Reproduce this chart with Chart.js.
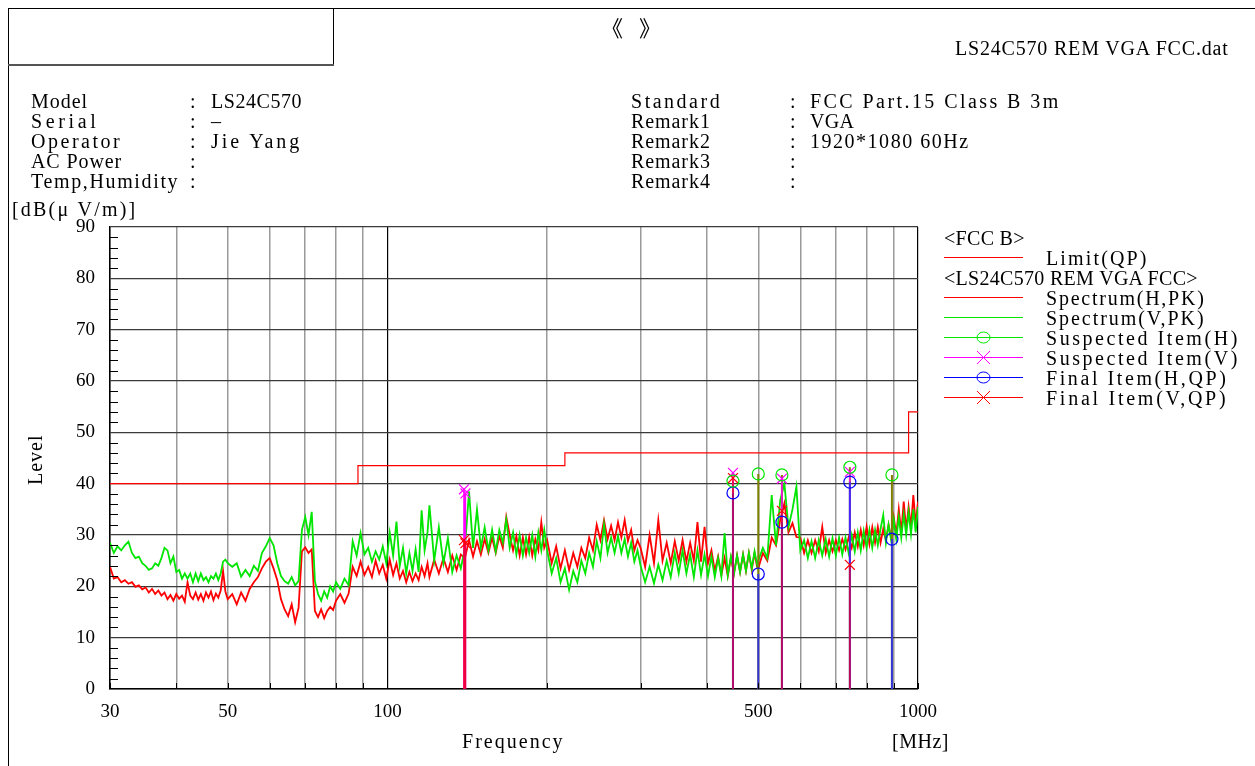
<!DOCTYPE html>
<html lang="en">
<head>
<meta charset="UTF-8">
<title>LS24C570 REM VGA FCC</title>
<script src="https://cdn.jsdelivr.net/npm/chart.js@4.4.0/dist/chart.umd.min.js"></script>
<style>
    body { margin: 0; padding: 0; background: #fff; color: #000; font-family: "Liberation Serif", serif; }
    #page { position: relative; width: 1255px; height: 766px; overflow: hidden; }
    #plot { position: absolute; left: 0; top: 0; }
    .t { position: absolute; font-size: 20px; line-height: 20px; white-space: pre; }
    .rule { position: absolute; background: #000; }
</style>
</head>
<body>
<div id="page">
    <canvas id="plot" width="1255" height="766"></canvas>

    <div class="rule" style="left:8px;top:8px;width:1247px;height:1px"></div>
    <div class="rule" style="left:8px;top:8px;width:1px;height:758px"></div>
    <div class="rule" style="left:333px;top:8px;width:1px;height:57px"></div>
    <div class="rule" style="left:8px;top:64px;width:326px;height:2px;background:#555"></div>

    <div class="t" style="left:601px;top:16px;font-family:'Noto Sans CJK SC';font-size:22px;letter-spacing:16px">《》</div>
    <div class="t mono" style="left:955px;top:38px">LS24C570 REM VGA FCC.dat</div>

    <div class="t mono" style="left:31px;top:91px">Model</div>
    <div class="t mono" style="left:31px;top:111px">Serial</div>
    <div class="t mono" style="left:31px;top:131px">Operator</div>
    <div class="t mono" style="left:31px;top:151px">AC Power</div>
    <div class="t mono" style="left:31px;top:171px">Temp,Humidity</div>
    <div class="t" style="left:190px;top:91px">:</div>
    <div class="t" style="left:190px;top:111px">:</div>
    <div class="t" style="left:190px;top:131px">:</div>
    <div class="t" style="left:190px;top:151px">:</div>
    <div class="t" style="left:190px;top:171px">:</div>
    <div class="t mono" style="left:211px;top:91px">LS24C570</div>
    <div class="t" style="left:211px;top:111px">–</div>
    <div class="t mono" style="left:211px;top:131px">Jie Yang</div>

    <div class="t mono" style="left:631px;top:91px">Standard</div>
    <div class="t mono" style="left:631px;top:111px">Remark1</div>
    <div class="t mono" style="left:631px;top:131px">Remark2</div>
    <div class="t mono" style="left:631px;top:151px">Remark3</div>
    <div class="t mono" style="left:631px;top:171px">Remark4</div>
    <div class="t" style="left:790px;top:91px">:</div>
    <div class="t" style="left:790px;top:111px">:</div>
    <div class="t" style="left:790px;top:131px">:</div>
    <div class="t" style="left:790px;top:151px">:</div>
    <div class="t" style="left:790px;top:171px">:</div>
    <div class="t mono" style="left:810px;top:91px">FCC Part.15 Class B 3m</div>
    <div class="t mono" style="left:810px;top:111px">VGA</div>
    <div class="t mono" style="left:810px;top:131px">1920*1080 60Hz</div>

    <div class="t mono" style="left:12px;top:199px">[dB(μ V/m)]</div>
    <div class="t" style="left:10px;top:450px;width:50px;text-align:center;letter-spacing:1px;transform:rotate(-90deg)">Level</div>
    <div class="t mono" style="left:462px;top:731px">Frequency</div>
    <div class="t mono" style="left:892px;top:731px">[MHz]</div>

    <div class="t mono" style="left:944px;top:228px">&lt;FCC B&gt;</div>
    <div class="t mono" style="left:1046px;top:248px">Limit(QP)</div>
    <div class="t mono" style="left:944px;top:268px">&lt;LS24C570 REM VGA FCC&gt;</div>
    <div class="t mono" style="left:1046px;top:288px">Spectrum(H,PK)</div>
    <div class="t mono" style="left:1046px;top:308px">Spectrum(V,PK)</div>
    <div class="t mono" style="left:1046px;top:328px">Suspected Item(H)</div>
    <div class="t mono" style="left:1046px;top:348px">Suspected Item(V)</div>
    <div class="t mono" style="left:1046px;top:368px">Final Item(H,QP)</div>
    <div class="t mono" style="left:1046px;top:388px">Final Item(V,QP)</div>
</div>

<script>
    // frequency points of both spectrum traces [MHz]
    const freqs = [
        30, 30.5, 31, 31.5, 32, 32.5, 33, 33.5, 34, 34.5, 35, 35.5, 36, 36.5, 37, 37.5, 38, 38.5, 39, 39.5,
        40, 40.5, 41, 41.5, 42, 42.5, 43, 43.5, 44, 44.5, 45, 45.5, 46, 46.5, 47, 47.5, 48, 48.5, 49, 49.5,
        50, 51, 52, 53, 54, 55, 56, 57, 58, 59, 60, 61, 62, 63, 64, 65, 66, 67, 68, 69,
        70, 71, 72, 73, 74, 75, 76, 77, 78, 79,
        80, 81.5, 83, 84.5, 86, 87.5, 89, 90.5, 92, 93.5, 95, 96.5, 98, 99.5, 101, 102.5, 104, 105.5, 107, 108.5,
        110, 111.5, 113, 114.5, 116, 117.5, 119,
        120, 122.5, 125, 127.5, 130, 132.5, 135, 137.5, 140, 142.5, 145, 147.5, 150, 152.5, 155, 157.5,
        160, 162.5, 165, 167.5, 170, 172.5, 175, 177.5, 180, 182.5, 185, 187.5, 190, 192.5, 195, 197.5,
        200, 204, 208, 212, 216, 220, 224, 228, 232, 236, 240, 244, 248, 252, 256, 260, 264, 268, 272, 276,
        280, 284, 288, 292, 296,
        300, 306, 312, 318, 324, 330, 336, 342, 348, 354, 360, 366, 372, 378, 384, 390, 396, 402, 408, 414,
        420, 426, 432, 438, 444, 450, 456, 462, 468, 474, 480, 486, 492, 498,
        500, 510, 520, 530, 540, 550, 560, 570, 580, 590, 600, 610, 620, 630, 640, 650, 660, 670, 680, 690,
        700, 710, 720, 730, 740, 750, 760, 770, 780, 790, 800, 810, 820, 830, 840, 850, 860, 870, 880, 890,
        900, 910, 920, 930, 940, 950, 960, 970, 980, 990, 1000
    ];

    // Spectrum(H,PK) [dBuV/m]
    const levelH = [
        23.8, 21.5, 21.8, 20.8, 21.2, 20.5, 20.8, 19.9, 20.2, 19.4, 19.8, 18.8, 19.5, 18.5, 19.2, 18.2, 18.8, 17.5, 18.3, 17.2,
        18.5, 17.6, 18.2, 17, 20.8, 18.2, 17.5, 18.8, 17.4, 18.5, 17.2, 18.8, 17.8, 19, 17.3, 18.6, 17.8, 19.2, 23, 19,
        17.5, 18.5, 16.5, 18.8, 17.2, 19.5, 20.8, 21.8, 23.5, 24.8, 25.5, 23.5, 21.2, 17.5, 15.5, 14.2, 16.5, 13, 15.8, 26.8,
        27.6, 26.5, 27.2, 15.2, 14, 15.5, 13.8, 15.2, 16, 15.4,
        17.2, 18.5, 16.8, 18.6, 23.8, 22, 24.8, 22.2, 23.8, 21.8, 25, 22.5, 24.2, 21.5, 25.2, 22.2, 24.5, 21.5, 23, 20.8,
        22.8, 21, 22.5, 21.2, 23.8, 22, 24.5,
        21.8, 25.2, 22.5, 25.5, 22.8, 26, 23.2, 26.2, 25.5, 29, 25.8, 28.8, 26.2, 29.2, 26.5, 29.5,
        26.5, 29.8, 27.5, 33.5, 30, 27, 29.8, 26, 29.5, 26.2, 29.6, 26, 29.2, 27, 32.5, 27.5,
        29, 24.5, 27.8, 23.5, 27, 23.2, 26.5, 23.8, 27.5, 25.5, 29.5, 27, 32, 29, 32.9, 29.2, 31.8, 29, 32.5, 29.5,
        32.9, 28.8, 31, 27, 29,
        27.5, 23.8, 30, 24.5, 32.9, 25, 28.5, 24.5, 28.8, 25, 29, 24.8, 28.5, 25, 32.5, 24.8, 31.6, 24.5, 27, 23,
        25.8, 22.2, 25.5, 22, 25.6, 22.5, 26, 22.8, 26.2, 23, 26.5, 23.2, 26.5, 23.5,
        23.5, 26.5, 25, 29.5, 28, 33, 36.2, 30.5, 32.3, 29.6, 29.5, 26.5, 29, 26.5, 29, 26.8, 31.6, 26.5, 29, 26.8,
        29, 27, 29.2, 27.2, 29.5, 27.5, 30.5, 27.8, 31, 28, 31.6, 28.2, 31.5, 28.5, 31.6, 28.5, 31.2, 29, 32, 29.5,
        33.5, 30, 35, 30.5, 36.5, 31, 35.5, 31.5, 37.8, 32, 36.5
    ];

    // Spectrum(V,PK) [dBuV/m]
    const levelV = [
        28.5, 26.5, 27.8, 27, 28, 28.7, 26.5, 25.5, 25.8, 24.5, 24, 23.2, 23.5, 24.5, 24, 25.5, 27.5, 27, 24.5, 25.8,
        22.8, 23.2, 21.5, 22.5, 21.5, 22.5, 20.8, 22.5, 21, 22.5, 21.2, 21.8, 20.8, 22, 21.5, 22.5, 21.2, 22.5, 24.8, 25.2,
        24.5, 23.8, 24.5, 21.9, 23.2, 22, 24, 23, 26.5, 27.8, 29.4, 28, 24.5, 22, 21, 20.5, 21.8, 20.2, 21, 31,
        33.5, 30, 34.5, 21, 18.5, 17.2, 19, 17.8, 20, 19,
        20.8, 19.5, 21.5, 20.2, 28.8, 26, 30.4, 26.2, 27.5, 24.8, 26.8, 25.2, 27.8, 24.5, 30.5, 26, 32.6, 24, 27.5, 22.5,
        26.5, 23, 27.2, 22.8, 34.8, 27, 30.5,
        35.8, 25, 31.5, 24.5, 29.4, 22.8, 26, 23.5, 27.5, 38.5, 27.5, 35, 27.5, 31.5, 27, 31,
        26.8, 31, 28.5, 33, 27.5, 30.5, 26.2, 30, 26, 29.5, 26.5, 30, 25.8, 30.5, 27, 31,
        27, 22.5, 25.5, 20.8, 23.5, 19.3, 23, 20.8, 25, 22.5, 26.5, 23.8, 28.8, 25.5, 32, 26.5, 29.5, 26.5, 29.8, 26.5,
        29.2, 25.8, 28.5, 24.8, 27,
        24, 20.8, 23.8, 20.6, 24.2, 21.2, 25, 21.8, 26.5, 22.5, 27, 22.5, 26.2, 21.8, 27, 22.2, 26.2, 22, 25.8, 21.8,
        25.5, 22, 30.4, 22.2, 25.8, 22.5, 26, 22.8, 26.2, 23, 26.5, 23.5, 26.8, 24,
        25, 27.5, 25.5, 37.8, 28, 36.8, 40, 31.5, 35, 39.4, 27, 29, 25.5, 28.8, 25.5, 29, 26, 29.2, 25.8, 29.4,
        26, 29.5, 26.2, 29.5, 26.5, 30, 26.8, 30.5, 27, 30.8, 27.5, 31, 27.5, 31, 28, 31.2, 33.9, 28.5, 32, 29,
        33, 29.2, 33.5, 29.5, 34, 30, 34.5, 30.2, 35, 30.5, 35.5
    ];

    // FCC Class B limit (QP)
    const limitFreq = [30, 88, 88, 216, 216, 960, 960, 1000];
    const limitLevel = [40, 40, 43.5, 43.5, 46, 46, 54, 54];

    // suspected and final items
    const suspHFreq = [448, 500, 554, 744, 893];
    const suspHLevel = [40.5, 41.9, 41.7, 43.2, 41.7];
    const suspVFreq = [139.4, 140.3, 448, 554, 744];
    const suspVLevel = [38.9, 38.1, 42.1, 41.0, 42.3];
    const finalHFreq = [448, 500, 554, 744, 893];
    const finalHLevel = [38.2, 22.4, 32.5, 40.3, 29.2];
    const finalVFreq = [139.4, 140.3, 448, 554, 744];
    const finalVLevel = [29.0, 28.4, 41.1, 34.7, 24.2];

    // axis ticks
    const xGridFreqs = [30, 40, 50, 60, 70, 80, 90, 100, 200, 300, 400, 500, 600, 700, 800, 900, 1000];
    const xLabelFreqs = [30, 50, 100, 500, 1000];

    const RED = '#ff0000', GREEN = '#00e600', MAGENTA = '#ff00ff', BLUE = '#0000ff', OLIVE = '#808000';
    const CHAR_W = 11.4;

    // spread the header and legend text out to a fixed-pitch look
    document.querySelectorAll('.mono').forEach(el => {
        const n = el.textContent.length;
        el.style.letterSpacing = '0px';
        const w = el.getBoundingClientRect().width;
        const ls = Math.max(0.3, (n * CHAR_W - w) / n);
        el.style.letterSpacing = ls.toFixed(2) + 'px';
    });

    function points(fs, ls) {
        return fs.map((f, i) => ({ x: f, y: ls[i] }));
    }

    // vertical line from 0 up to each item level
    function sticks(fs, ls) {
        const out = [];
        fs.forEach((f, i) => {
            out.push({ x: f, y: 0 }, { x: f, y: ls[i] }, { x: f, y: null });
        });
        return out;
    }

    function lineSet(label, data, color, width, order) {
        return {
            label: label, data: data, showLine: true, borderColor: color, borderWidth: width,
            pointRadius: 0, pointHoverRadius: 0, spanGaps: false, tension: 0, order: order
        };
    }

    function markSet(label, data, color, style, radius) {
        return {
            label: label, data: data, showLine: false, pointStyle: style, pointRadius: radius,
            pointBorderColor: color, pointBackgroundColor: 'rgba(0,0,0,0)', pointBorderWidth: 1.2,
            borderColor: color, backgroundColor: 'rgba(0,0,0,0)', order: 0
        };
    }

    // minor ticks, bottom ticks and legend samples
    const decorPlugin = {
        id: 'decor',
        afterDraw(chart) {
            const ctx = chart.ctx;
            const xs = chart.scales.x, ys = chart.scales.y;
            const area = chart.chartArea;
            ctx.save();
            ctx.strokeStyle = '#000';
            ctx.lineWidth = 1;
            for (let v = 2; v < 90; v += 2) {
                if (v % 10 === 0) continue;
                const y = Math.round(ys.getPixelForValue(v)) + 0.5;
                ctx.beginPath();
                ctx.moveTo(area.left, y);
                ctx.lineTo(area.left + 8, y);
                ctx.stroke();
            }
            xGridFreqs.forEach(f => {
                const x = Math.round(xs.getPixelForValue(f)) + 0.5;
                ctx.beginPath();
                ctx.moveTo(x, area.bottom);
                ctx.lineTo(x, area.bottom - 6);
                ctx.stroke();
            });

            const rows = [
                { y: 257, color: RED },
                { y: 297, color: RED },
                { y: 317, color: GREEN },
                { y: 337, color: GREEN, mark: 'o' },
                { y: 357, color: MAGENTA, mark: 'x' },
                { y: 377, color: BLUE, mark: 'o' },
                { y: 397, color: RED, mark: 'x' }
            ];
            rows.forEach(r => {
                ctx.strokeStyle = r.color;
                ctx.lineWidth = 1;
                ctx.beginPath();
                ctx.moveTo(944, r.y + 0.5);
                ctx.lineTo(1023, r.y + 0.5);
                ctx.stroke();
                if (r.mark === 'o') {
                    ctx.beginPath();
                    ctx.ellipse(983.5, r.y + 0.5, 6.5, 5.5, 0, 0, Math.PI * 2);
                    ctx.stroke();
                } else if (r.mark === 'x') {
                    ctx.beginPath();
                    ctx.moveTo(977, r.y - 6); ctx.lineTo(990, r.y + 7);
                    ctx.moveTo(990, r.y - 6); ctx.lineTo(977, r.y + 7);
                    ctx.stroke();
                }
            });
            ctx.restore();
        }
    };

    new Chart(document.getElementById('plot'), {
        type: 'scatter',
        data: {
            datasets: [
                markSet('Suspected Item(H)', points(suspHFreq, suspHLevel), GREEN, 'circle', 6),
                markSet('Suspected Item(V)', points(suspVFreq, suspVLevel), MAGENTA, 'crossRot', 7),
                markSet('Final Item(H,QP)', points(finalHFreq, finalHLevel), BLUE, 'circle', 6),
                markSet('Final Item(V,QP)', points(finalVFreq, finalVLevel), RED, 'crossRot', 7),
                lineSet('Final V stick', sticks(finalVFreq, finalVLevel), 'rgba(235,0,30,0.85)', 1.5, 1),
                lineSet('Final H stick', sticks(finalHFreq, finalHLevel), 'rgba(40,40,255,0.85)', 2, 2),
                lineSet('Suspected V stick', sticks(suspVFreq, suspVLevel), MAGENTA, 1.5, 3),
                lineSet('Suspected H stick', sticks(suspHFreq, suspHLevel), OLIVE, 2, 4),
                lineSet('Limit(QP)', points(limitFreq, limitLevel), RED, 1.2, 5),
                lineSet('Spectrum(V,PK)', points(freqs, levelV), GREEN, 1.8, 6),
                lineSet('Spectrum(H,PK)', points(freqs, levelH), RED, 1.8, 7)
            ]
        },
        options: {
            responsive: false,
            animation: false,
            devicePixelRatio: 1,
            layout: { padding: { left: 0, top: 227, right: 337, bottom: 0 } },
            plugins: { legend: { display: false }, tooltip: { enabled: false } },
            scales: {
                x: {
                    type: 'logarithmic',
                    min: 30,
                    max: 1000,
                    afterBuildTicks: (scale) => { scale.ticks = xGridFreqs.map(v => ({ value: v })); },
                    afterFit: (scale) => { scale.height = 77; },
                    border: { display: true, color: '#000', width: 1.5 },
                    grid: {
                        drawTicks: false,
                        lineWidth: (c) => (c.tick && [30, 100, 1000].includes(c.tick.value)) ? 1.2 : 1.5,
                        color: (c) => (c.tick && [30, 100, 1000].includes(c.tick.value)) ? '#000' : '#9a9a9a'
                    },
                    ticks: {
                        autoSkip: false,
                        maxRotation: 0,
                        padding: 12,
                        color: '#000',
                        font: { family: 'Liberation Serif', size: 19 },
                        callback: (v) => xLabelFreqs.includes(v) ? String(v) : ''
                    }
                },
                y: {
                    min: 0,
                    max: 90,
                    afterFit: (scale) => { scale.width = 110; },
                    border: { display: true, color: '#000', width: 1.5 },
                    grid: { drawTicks: false, color: '#3a3a3a', lineWidth: 1.2 },
                    ticks: {
                        stepSize: 10,
                        padding: 15,
                        color: '#000',
                        font: { family: 'Liberation Serif', size: 19 }
                    }
                }
            }
        },
        plugins: [decorPlugin]
    });
</script>
</body>
</html>
